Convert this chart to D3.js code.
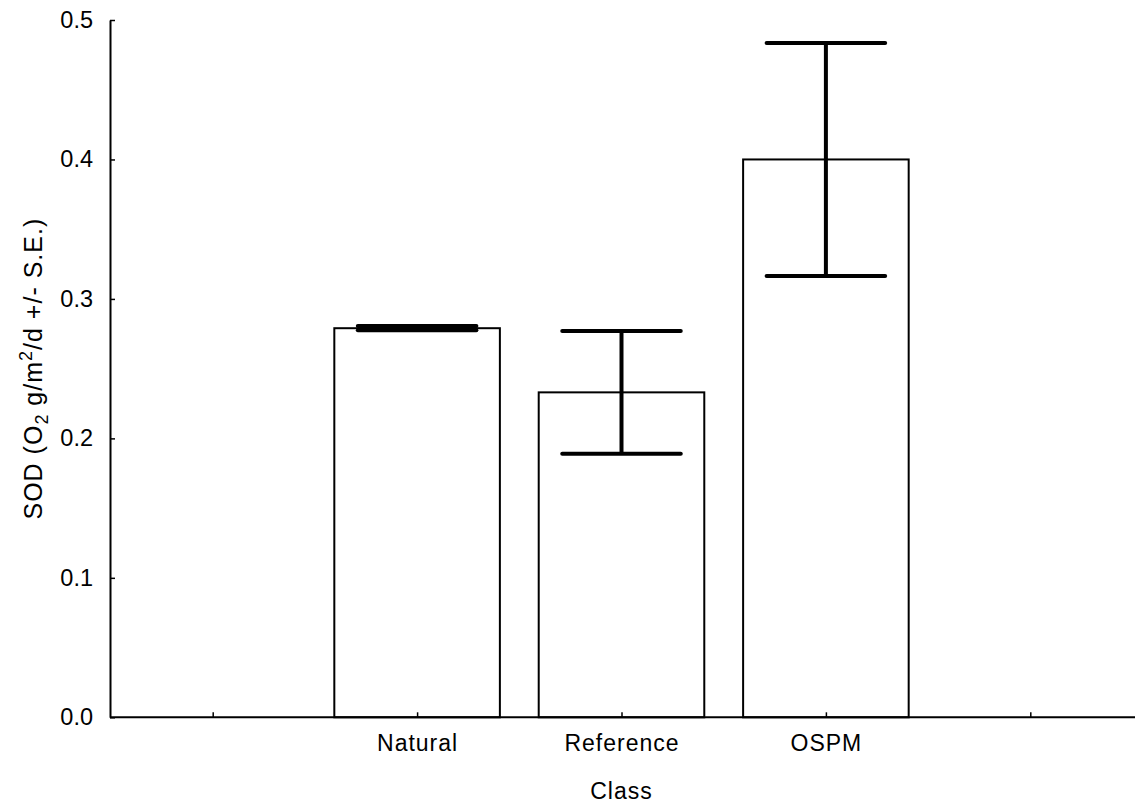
<!DOCTYPE html>
<html>
<head>
<meta charset="utf-8">
<script src="https://cdn.jsdelivr.net/npm/d3@7"></script>
<style>
  body { margin: 0; background: #fff; }
  svg { display: block; }
  text { font-family: "Liberation Sans", Arial, sans-serif; fill: #000; }
</style>
</head>
<body>
<svg id="chart" width="1135" height="805"></svg>
<script>
const categories = ["Natural", "Reference", "OSPM"];
const categoryPositions = [2, 3, 4];
const means = [0.279, 0.233, 0.400];
const stdErrors = [0.0015, 0.044, 0.0835];
const yTicks = [0.0, 0.1, 0.2, 0.3, 0.4, 0.5];
const xTicks = [1, 2, 3, 4, 5];

const svg = d3.select("#chart");
const x = d3.scaleLinear().domain([0.5, 5.5]).range([110.5, 1132.5]);
const y = d3.scaleLinear().domain([0, 0.5]).range([717.3, 20]);
const step = x(2) - x(1);
const barW = step * 0.81;
const capW = step * 0.58;

// bars
svg.append("g").selectAll("rect").data(means).join("rect")
  .attr("x", (d, i) => x(categoryPositions[i]) - barW / 2)
  .attr("y", d => y(d))
  .attr("width", barW)
  .attr("height", d => y(0) - y(d))
  .attr("fill", "#fff").attr("stroke", "#000").attr("stroke-width", 2);

// error bars
const eb = svg.append("g").attr("stroke", "#000").attr("stroke-width", 4).attr("stroke-linecap", "round");
means.forEach((m, i) => {
  const cx = x(categoryPositions[i]);
  const hi = m + stdErrors[i], lo = m - stdErrors[i];
  eb.append("line").attr("x1", cx).attr("x2", cx).attr("y1", y(hi)).attr("y2", y(lo)).attr("stroke-linecap", "butt");
  eb.append("line").attr("x1", cx - capW / 2).attr("x2", cx + capW / 2).attr("y1", y(hi)).attr("y2", y(hi));
  eb.append("line").attr("x1", cx - capW / 2).attr("x2", cx + capW / 2).attr("y1", y(lo)).attr("y2", y(lo));
});

// y axis
const yAxis = d3.axisLeft(y).tickValues(yTicks).tickFormat(d3.format(".1f")).tickSizeInner(-5).tickSizeOuter(0).tickPadding(17);
const gy = svg.append("g").attr("transform", "translate(110,0)").call(yAxis);
gy.select(".domain").attr("stroke-width", 2);
gy.selectAll(".tick line").attr("stroke-width", 1.5);
gy.selectAll(".tick text").attr("font-size", 23.5).attr("font-family", "Liberation Sans, Arial, sans-serif");

// x axis
const xAxis = d3.axisBottom(x).tickValues(xTicks)
  .tickFormat(d => { const k = categoryPositions.indexOf(d); return k >= 0 ? categories[k] : ""; })
  .tickSizeInner(-5).tickSizeOuter(0).tickPadding(17);
const gx = svg.append("g").attr("transform", "translate(0,717.3)").call(xAxis);
gx.select(".domain").attr("stroke-width", 2).attr("d", "M110,0H1135");
gx.selectAll(".tick line").attr("stroke-width", 1.5);
gx.selectAll(".tick text").attr("font-size", 23).attr("font-family", "Liberation Sans, Arial, sans-serif").attr("letter-spacing", 1);

// axis titles
svg.append("text").attr("x", x(3)).attr("y", 799).attr("text-anchor", "middle")
  .attr("font-size", 23).attr("letter-spacing", 1).text("Class");

const yl = svg.append("text").attr("transform", `translate(42,${(y(0) + y(0.5)) / 2}) rotate(-90)`)
  .attr("text-anchor", "middle").attr("font-size", 25).attr("letter-spacing", 1);
yl.append("tspan").text("SOD (O");
yl.append("tspan").attr("font-size", 18).attr("dy", 6).text("2");
yl.append("tspan").attr("dy", -6).text(" g/m");
yl.append("tspan").attr("font-size", 18).attr("dy", -10).text("2");
yl.append("tspan").attr("dy", 10).text("/d +/- S.E.)");
</script>
</body>
</html>
